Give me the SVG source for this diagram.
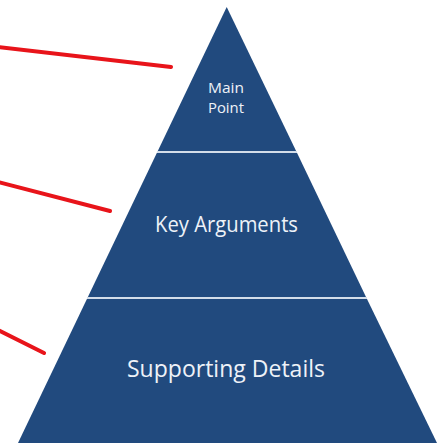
<svg xmlns="http://www.w3.org/2000/svg" width="442" height="445" viewBox="0 0 442 445">
<style>
.tier{fill:#214a7e}
.div{stroke:#d3dde9;stroke-width:2}
.lbl{fill:#eef2f8;font-family:"Open Sans","Noto Sans",sans-serif;text-anchor:middle}
.ptr{stroke:#e8141a;stroke-width:4;stroke-linecap:round;fill:none}
</style>
<rect width="442" height="445" fill="#ffffff"/>
<g id="pyramid-main">
<polygon class="tier" points="226.7,7 157.3,152 296.6,152"/>
<text class="lbl" x="226" y="93" font-size="14.5" textLength="36" lengthAdjust="spacingAndGlyphs">Main</text>
<text class="lbl" x="226" y="113" font-size="14.5" textLength="36" lengthAdjust="spacingAndGlyphs">Point</text>
</g>
<g id="pyramid-key">
<polygon class="tier" points="157.3,152 296.6,152 366.5,298 87.4,298"/>
<text class="lbl" x="226.5" y="232" font-size="21" textLength="143" lengthAdjust="spacingAndGlyphs">Key Arguments</text>
</g>
<g id="pyramid-support">
<polygon class="tier" points="87.4,298 366.5,298 437,443 18,443"/>
<text class="lbl" x="226" y="377" font-size="23" textLength="198" lengthAdjust="spacingAndGlyphs">Supporting Details</text>
</g>
<g id="dividers">
<line class="div" x1="157" y1="152" x2="297" y2="152"/>
<line class="div" x1="87" y1="298" x2="367" y2="298"/>
</g>
<g id="connectors">
<line class="ptr" x1="-2" y1="47" x2="171" y2="67"/>
<line class="ptr" x1="-2" y1="182" x2="110" y2="211"/>
<line class="ptr" x1="-2" y1="330" x2="44" y2="353"/>
</g>
</svg>
